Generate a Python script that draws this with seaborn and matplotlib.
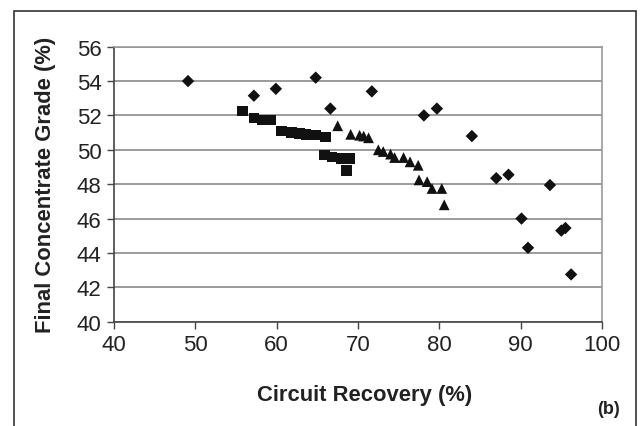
import matplotlib
matplotlib.use("Agg")
import matplotlib.pyplot as plt
import seaborn as sns
import pandas as pd
from matplotlib.patches import Rectangle

# Data
diamond_x = [49.1, 57.2, 59.9, 64.8, 66.6, 71.7, 78.1, 79.7, 84.0, 87.0, 88.5,
             90.1, 90.9, 93.6, 95.0, 95.5, 96.2]
diamond_y = [54.0, 53.15, 53.55, 54.2, 52.4, 53.4, 52.0, 52.4, 50.8, 48.35, 48.55,
             46.0, 44.3, 47.95, 45.3, 45.45, 42.75]

square_x = [55.8, 57.2, 58.2, 59.3, 60.6, 61.8, 62.8, 63.6, 64.8, 66.0,
            65.9, 66.8, 67.9, 69.0, 68.6]
square_y = [52.25, 51.85, 51.75, 51.75, 51.1, 51.0, 50.95, 50.9, 50.85, 50.75,
            49.7, 49.6, 49.5, 49.5, 48.8]

triangle_x = [67.5, 69.1, 70.2, 70.7, 71.3, 72.5, 73.1, 74.0, 74.5, 75.6, 76.4,
              77.4, 77.5, 78.5, 79.1, 80.3, 80.6]
triangle_y = [51.4, 50.9, 50.85, 50.8, 50.7, 50.0, 49.9, 49.75, 49.55, 49.55, 49.3,
              49.1, 48.25, 48.15, 47.75, 47.75, 46.8]

x_ticks = [40, 50, 60, 70, 80, 90, 100]
y_ticks = [40, 42, 44, 46, 48, 50, 52, 54, 56]

df = pd.concat([
    pd.DataFrame({"recovery": diamond_x, "grade": diamond_y, "series": "A"}),
    pd.DataFrame({"recovery": square_x, "grade": square_y, "series": "B"}),
    pd.DataFrame({"recovery": triangle_x, "grade": triangle_y, "series": "C"}),
], ignore_index=True)

sns.set_style("white")
plt.rcParams["font.family"] = ["Liberation Sans", "DejaVu Sans"]

fig = plt.figure(figsize=(6.42, 4.27), dpi=100)
ax = fig.add_axes([114/642, 1-322.7/427, (602-114)/642, (322.7-47.7)/427])

sns.scatterplot(data=df, x="recovery", y="grade", style="series",
                markers={"A": "D", "B": "s", "C": "^"},
                size="series", sizes={"A": 40, "B": 56, "C": 60},
                color="#111111", linewidth=0, legend=False, ax=ax, zorder=3)

ax.set_xlim(40, 100)
ax.set_ylim(40, 56)
ax.set_xticks(x_ticks)
ax.set_yticks(y_ticks)
ax.yaxis.grid(True, color="#8a8a8a", linewidth=1.2)
ax.xaxis.grid(False)
ax.set_axisbelow(True)

for side in ["left", "bottom"]:
    ax.spines[side].set_color("#444444")
    ax.spines[side].set_linewidth(1.2)
for side in ["right", "top"]:
    ax.spines[side].set_color("#9a9a9a")
    ax.spines[side].set_linewidth(1.2)

ax.tick_params(axis="both", direction="out", length=5, width=1.0, color="#444444",
               labelsize=16, labelcolor="#222222", left=True, bottom=True, pad=4)

ax.set_xlabel("Circuit Recovery (%)", fontsize=15.8, fontweight="bold", color="#222222")
ax.set_ylabel("Final Concentrate Grade (%)", fontsize=15.8, fontweight="bold", color="#222222")
ax.xaxis.label.set_va("center")
ax.yaxis.label.set_va("center")
ax.xaxis.set_label_coords(0.513, -0.263)
ax.yaxis.set_label_coords(-0.141, 0.5)

fig.text(608/642, 1-410/427, "(b)", fontsize=13, fontweight="bold",
         ha="center", va="center", color="#222222")

frame = Rectangle((14/642, -0.2), (636-14)/642, 0.971 + 0.2, transform=fig.transFigure,
                  fill=False, edgecolor="#333333", linewidth=1.2, clip_on=False)
fig.patches.append(frame)

fig.savefig("out.png", dpi=100)
